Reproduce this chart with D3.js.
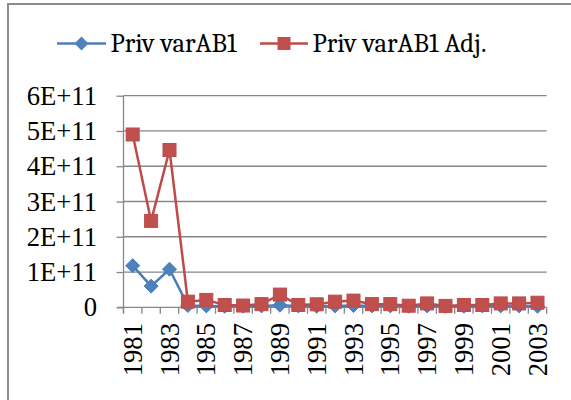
<!DOCTYPE html>
<html><head><meta charset="utf-8">
<script src="https://cdn.jsdelivr.net/npm/d3@7"></script>
<style>body{margin:0;background:#fff}svg{display:block}</style>
</head><body><svg id="c" width="571" height="400"></svg>
<script>
const years = ["1981","1982","1983","1984","1985","1986","1987","1988","1989","1990","1991","1992","1993","1994","1995","1996","1997","1998","1999","2000","2001","2002","2003"];
const privVarAB1 = [1.18e11,0.6e11,1.08e11,0.05e11,0.04e11,0.03e11,0.03e11,0.04e11,0.06e11,0.04e11,0.03e11,0.04e11,0.05e11,0.04e11,0.04e11,0.03e11,0.04e11,0.03e11,0.03e11,0.04e11,0.04e11,0.04e11,0.03e11];
const privVarAB1Adj = [4.9e11,2.45e11,4.46e11,0.16e11,0.21e11,0.065e11,0.05e11,0.09e11,0.36e11,0.065e11,0.085e11,0.16e11,0.19e11,0.09e11,0.09e11,0.045e11,0.11e11,0.04e11,0.065e11,0.065e11,0.11e11,0.11e11,0.13e11];
const yTicks = [0,1e11,2e11,3e11,4e11,5e11,6e11];
const seriesNames = ["Priv varAB1","Priv varAB1 Adj."];

const svg = d3.select("#c");
const font = "Cambria, 'Liberation Serif', serif";
const numFont = "'Liberation Serif', serif";
const fs = 26.67;
const grid = "#868686";
const blue = "#4A7EBB", red = "#BE4B48";

// chart frame
svg.append("rect").attr("x",8).attr("y",4).attr("width",700).attr("height",500)
  .attr("fill","none").attr("stroke","#8c8c8c").attr("stroke-width",2);

const x = d3.scaleBand().domain(years).range([123.5,546.7]).padding(0);
const y = d3.scaleLinear().domain([0,6e11]).range([307.3,95.7]);

// gridlines
svg.append("g").selectAll("line").data(yTicks.filter(d=>d>0)).join("line")
  .attr("x1",123.5).attr("x2",546.7).attr("y1",d=>y(d)).attr("y2",d=>y(d))
  .attr("stroke",grid).attr("stroke-width",1.3);

// y axis
const yAxis = d3.axisLeft(y).tickValues(yTicks).tickSize(7).tickPadding(19.5)
  .tickFormat(d=> d===0 ? "0" : (d/1e11)+"E+11");
const gy = svg.append("g").attr("transform","translate(123.5,0)").call(yAxis);
gy.select(".domain").attr("stroke",grid).attr("stroke-width",1.3).attr("d",`M0,${y(6e11)}V${y(0)+6}`);
gy.selectAll(".tick line").attr("stroke",grid).attr("stroke-width",1.3);
gy.selectAll("text").attr("font-family",numFont).attr("font-size",fs).attr("fill","#000");

// x axis
const gx = svg.append("g");
gx.append("line").attr("x1",117).attr("x2",546.7).attr("y1",y(0)).attr("y2",y(0))
  .attr("stroke",grid).attr("stroke-width",1.3);
const edges = years.map(d=>x(d)).concat([x(years[years.length-1])+x.bandwidth()]);
gx.selectAll("line.t").data(edges).join("line").attr("class","t")
  .attr("x1",d=>d).attr("x2",d=>d).attr("y1",y(0)).attr("y2",y(0)+6.5)
  .attr("stroke",grid).attr("stroke-width",1.3);
gx.selectAll("text").data(years.filter((d,i)=>i%2===0)).join("text")
  .attr("transform",d=>`translate(${x(d)+x.bandwidth()/2},323) rotate(-90)`)
  .attr("text-anchor","end").attr("dy","0.34em")
  .attr("font-family",numFont).attr("font-size",fs).attr("fill","#000").text(d=>d);

// lines
const line = d3.line().x((d,i)=>x(years[i])+x.bandwidth()/2).y(d=>y(d));
svg.append("path").datum(privVarAB1).attr("d",line).attr("fill","none").attr("stroke",blue).attr("stroke-width",2.5);
svg.append("g").selectAll("path").data(privVarAB1).join("path")
  .attr("transform",(d,i)=>`translate(${x(years[i])+x.bandwidth()/2},${y(d)})`)
  .attr("d","M0,-7L7,0L0,7L-7,0Z").attr("fill","#4F81BD").attr("stroke","#4A7EBB").attr("stroke-width",1);
svg.append("path").datum(privVarAB1Adj).attr("d",line).attr("fill","none").attr("stroke",red).attr("stroke-width",2.5);
svg.append("g").selectAll("rect").data(privVarAB1Adj).join("rect")
  .attr("x",(d,i)=>x(years[i])+x.bandwidth()/2-6.5).attr("y",d=>y(d)-6.5)
  .attr("width",13).attr("height",13).attr("fill","#C0504D").attr("stroke","#BE4B48").attr("stroke-width",1);

// legend
const lg = svg.append("g");
lg.append("line").attr("x1",57).attr("x2",106).attr("y1",43.5).attr("y2",43.5).attr("stroke",blue).attr("stroke-width",2.5);
lg.append("path").attr("transform","translate(81.5,43.5)").attr("d","M0,-7L7,0L0,7L-7,0Z").attr("fill","#4F81BD");
lg.append("text").attr("x",110.5).attr("y",52).attr("font-family",font).attr("font-size",fs).text(seriesNames[0]);
lg.append("line").attr("x1",260).attr("x2",308).attr("y1",43.5).attr("y2",43.5).attr("stroke",red).attr("stroke-width",2.5);
lg.append("rect").attr("x",277.5).attr("y",37).attr("width",13).attr("height",13).attr("fill","#C0504D");
lg.append("text").attr("x",312.5).attr("y",52).attr("font-family",font).attr("font-size",fs).text(seriesNames[1]);
</script></body></html>
